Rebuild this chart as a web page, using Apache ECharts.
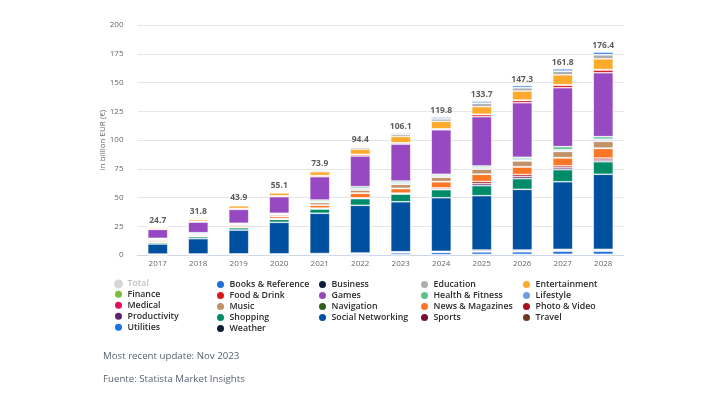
<!DOCTYPE html>
<html>
<head>
<meta charset="utf-8">
<script src="https://cdn.jsdelivr.net/npm/echarts@6/dist/echarts.min.js"></script>
<style>
  html, body { margin: 0; padding: 0; background: #fff; }
  #main { width: 712px; height: 398px; }
</style>
</head>
<body>
<div id="main"></div>
<script>
const years = ['2017', '2018', '2019', '2020', '2021', '2022', '2023', '2024', '2025', '2026', '2027', '2028'];
const totals = [24.7, 31.8, 43.9, 55.1, 73.9, 94.4, 106.1, 119.8, 133.7, 147.3, 161.8, 176.4];
const yTicks = [0, 25, 50, 75, 100, 125, 150, 175, 200];

// revenue by segment, billion EUR
const booksReference = [0.2, 0.3, 0.3, 0.3, 0.4, 0.6, 0.9, 1.2, 1.5, 1.6, 1.8, 2.0];
const business = [0.1, 0.1, 0.1, 0.1, 0.1, 0.1, 0.1, 0.2, 0.3, 0.3, 0.3, 0.3];
const education = [0.4, 0.5, 0.7, 0.7, 1.0, 1.6, 2.0, 2.2, 2.9, 2.8, 3.0, 3.5];
const entertainment = [1.2, 1.6, 2.3, 2.5, 3.3, 4.6, 5.4, 6.5, 6.6, 7.8, 8.6, 9.3];
const finance = [0.1, 0.1, 0.1, 0.1, 0.2, 0.2, 0.2, 0.2, 0.3, 0.4, 0.4, 0.4];
const foodDrink = [0.4, 0.5, 0.7, 0.7, 0.8, 1.2, 1.0, 0.6, 1.8, 2.0, 2.2, 2.4];
const games = [7.8, 9.3, 12.1, 14.4, 20.3, 26.7, 32.2, 38.7, 42.9, 47.4, 51.3, 55.6];
const healthFitness = [0.5, 0.5, 0.5, 0.7, 1.2, 1.4, 1.5, 1.2, 1.3, 1.5, 2.6, 2.2];
const lifestyle = [0.4, 0.4, 0.4, 0.5, 0.7, 1.2, 1.0, 1.0, 1.0, 1.2, 1.0, 1.3];
const medical = [0.2, 0.2, 0.2, 0.2, 0.3, 0.3, 0.3, 0.3, 0.4, 0.5, 0.5, 0.6];
const music = [0.8, 0.8, 0.9, 1.3, 2.1, 2.6, 3.5, 3.8, 4.3, 5.0, 5.4, 5.8];
const navigation = [0.1, 0.1, 0.1, 0.1, 0.1, 0.2, 0.2, 0.2, 0.2, 0.2, 0.2, 0.3];
const newsMagazines = [1.0, 1.0, 1.2, 1.8, 2.6, 4.0, 4.0, 5.3, 6.3, 6.6, 7.0, 8.4];
const photoVideo = [0.3, 0.3, 0.3, 0.4, 0.4, 0.4, 0.4, 1.0, 1.9, 1.8, 1.7, 1.7];
const productivity = [0.2, 0.2, 0.3, 0.3, 0.4, 0.3, 0.4, 0.6, 1.7, 1.8, 1.6, 1.5];
const shopping = [1.4, 1.7, 2.0, 2.6, 3.7, 5.8, 6.7, 7.0, 8.7, 9.3, 10.5, 10.9];
const socialNetworking = [8.8, 13.3, 20.7, 27.4, 35.0, 41.5, 43.4, 46.6, 47.3, 52.8, 58.8, 65.3];
const sports = [0.2, 0.2, 0.2, 0.2, 0.3, 0.3, 0.5, 0.4, 1.0, 0.8, 0.7, 0.7];
const travel = [0.2, 0.2, 0.2, 0.2, 0.3, 0.4, 0.5, 0.5, 0.6, 0.7, 0.8, 0.8];
const utilities = [0.3, 0.4, 0.5, 0.5, 0.5, 0.8, 1.5, 2.0, 2.2, 2.3, 2.8, 2.8];
const weather = [0.1, 0.1, 0.1, 0.1, 0.2, 0.2, 0.4, 0.3, 0.5, 0.5, 0.6, 0.6];

// stack order, bottom first
const segments = [
  ['Weather', weather],
  ['Utilities', utilities],
  ['Travel', travel],
  ['Sports', sports],
  ['Social Networking', socialNetworking],
  ['Shopping', shopping],
  ['Productivity', productivity],
  ['Photo & Video', photoVideo],
  ['News & Magazines', newsMagazines],
  ['Navigation', navigation],
  ['Music', music],
  ['Medical', medical],
  ['Lifestyle', lifestyle],
  ['Health & Fitness', healthFitness],
  ['Games', games],
  ['Food & Drink', foodDrink],
  ['Finance', finance],
  ['Entertainment', entertainment],
  ['Education', education],
  ['Business', business],
  ['Books & Reference', booksReference]
];

const colors = {
  'Books & Reference': '#1f6fd6',
  'Business': '#0d1d36',
  'Education': '#adadad',
  'Entertainment': '#fca92c',
  'Finance': '#7cbd3b',
  'Food & Drink': '#d9191f',
  'Games': '#9649c0',
  'Health & Fitness': '#5ec48c',
  'Lifestyle': '#6b9ddf',
  'Medical': '#e0105f',
  'Music': '#c19168',
  'Navigation': '#2f5e1c',
  'News & Magazines': '#fd7627',
  'Photo & Video': '#a8121a',
  'Productivity': '#5a2473',
  'Shopping': '#008b69',
  'Social Networking': '#0050a0',
  'Sports': '#7a0b33',
  'Travel': '#6d3a21',
  'Utilities': '#1d6fe2',
  'Weather': '#0e1f35'
};

const chart = echarts.init(document.getElementById('main'));
const font = '"Open Sans", sans-serif';

const legendNames = ['Total'].concat(segments.map(s => s[0]).slice().sort());
const colLeft = [113, 215, 317, 419, 521];
const legends = colLeft.map((left, c) => ({
  orient: 'vertical',
  left: left,
  top: 279,
  padding: 0,
  itemWidth: 10,
  itemHeight: 9,
  itemGap: 0,
  icon: 'circle',
  selectedMode: false,
  textStyle: { fontFamily: font, fontSize: 8.8, fontWeight: 600, color: '#2b2b2b', lineHeight: 9.85, padding: [0, 0, 0, -1] },
  data: legendNames.filter((n, i) => i % 5 === c).map(n =>
    n === 'Total' ? { name: n, textStyle: { color: '#c0c0c0' }, itemStyle: { color: '#cccccc' } } : n)
}));

const series = segments.map(([name, values]) => ({
  name: name,
  type: 'bar',
  stack: 'all',
  barWidth: 20,
  data: values,
  itemStyle: { color: colors[name], borderColor: '#fff', borderWidth: 0.6 }
}));

series.push({
  name: 'Total',
  type: 'scatter',
  data: totals,
  symbolSize: 0,
  itemStyle: { color: '#cccccc' },
  label: {
    show: true,
    position: 'top',
    distance: 2,
    formatter: p => p.value.toFixed(1),
    fontFamily: font,
    fontSize: 8.5,
    fontWeight: 'bold',
    color: '#333'
  },
  z: 10
});

const option = {
  animation: false,
  backgroundColor: '#fff',
  grid: { left: 137.5, right: 88.5, top: 25, bottom: 143 },
  legend: legends,
  xAxis: {
    type: 'category',
    data: years,
    axisLine: { lineStyle: { color: '#ccd6eb' } },
    axisTick: { alignWithLabel: true, length: 4, lineStyle: { color: '#ccd6eb' } },
    axisLabel: { color: '#666', fontSize: 8, fontFamily: font, margin: 5 }
  },
  yAxis: {
    type: 'value',
    min: yTicks[0],
    max: yTicks[yTicks.length - 1],
    interval: 25,
    name: 'in billion EUR (€)',
    nameLocation: 'middle',
    nameGap: 31,
    nameMoveOverlap: false,
    nameTextStyle: { color: '#666', fontSize: 8, fontFamily: font },
    axisLine: { show: false },
    axisTick: { show: false },
    splitLine: { lineStyle: { color: '#e6e6e6' } },
    axisLabel: { color: '#666', fontSize: 8, fontFamily: font, margin: 14 }
  },
  graphic: [
    { type: 'text', left: 103, top: 351, style: { text: 'Most recent update: Nov 2023', fill: '#59636e', font: '9.7px "Open Sans", sans-serif' } },
    { type: 'text', left: 103, top: 374, style: { text: 'Fuente: Statista Market Insights', fill: '#59636e', font: '9.7px "Open Sans", sans-serif' } }
  ],
  series: series
};

chart.setOption(option);
</script>
</body>
</html>
